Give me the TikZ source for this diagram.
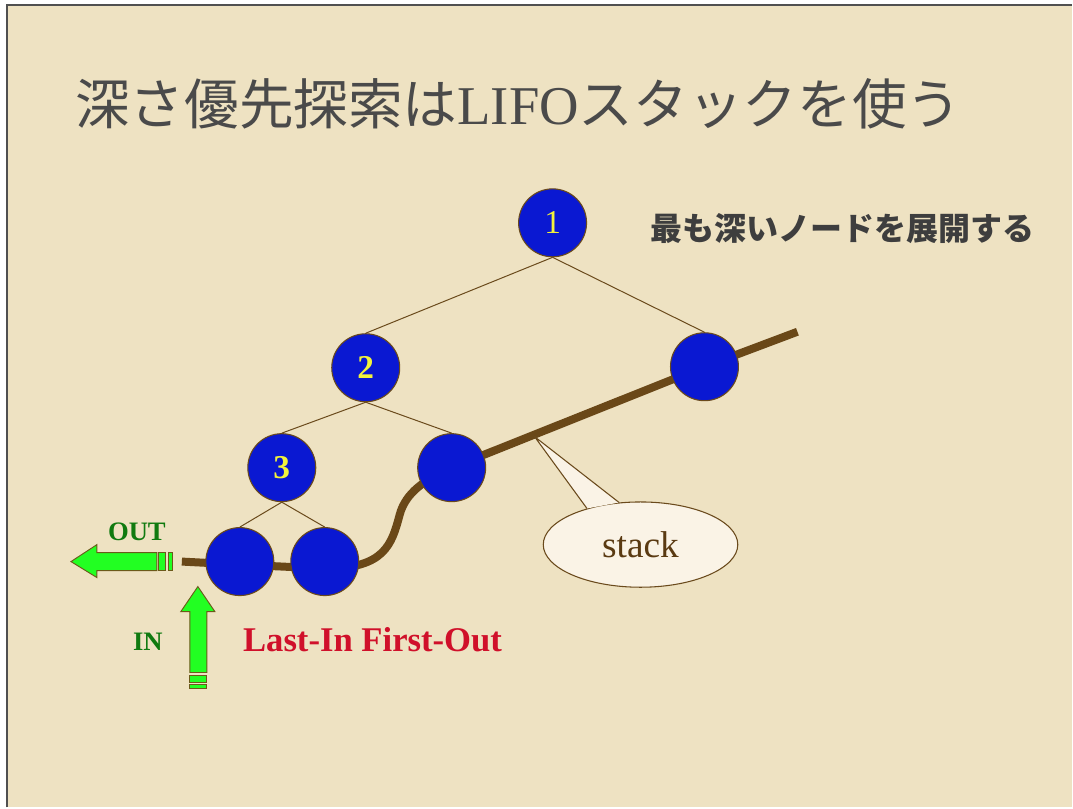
\documentclass[tikz,border=0pt]{standalone}
\usepackage{fontspec}
\setmainfont{Liberation Serif}
\newfontfamily\cjk{Noto Sans CJK JP}
\usetikzlibrary{shapes.geometric,calc}
\pgfdeclarelayer{back}
\pgfdeclarelayer{bg}
\pgfsetlayers{back,bg,main}
\definecolor{paper}{HTML}{EEE2C2}
\definecolor{frameline}{HTML}{505050}
\definecolor{titlegray}{HTML}{4A4A4A}
\definecolor{subgray}{HTML}{3E3E3E}
\definecolor{treebrown}{HTML}{6A4A1C}
\definecolor{stackbrown}{HTML}{6A4818}
\definecolor{nodeblue}{HTML}{0A18D2}
\definecolor{numyellow}{HTML}{F2F23C}
\definecolor{arrowgreen}{HTML}{22FF22}
\definecolor{arrowline}{HTML}{6B5A1A}
\definecolor{labelgreen}{HTML}{107A10}
\definecolor{lifored}{HTML}{D0102A}
\definecolor{callfill}{HTML}{FAF3E6}
\definecolor{calltext}{HTML}{5A3A12}
\tikzset{
  treenode/.style={circle, draw=treebrown, line width=0.8pt, fill=nodeblue,
    minimum size=51pt, inner sep=0pt, text=numyellow,
    font=\fontsize{25}{28}\selectfont},
  edge/.style={draw=treebrown, line width=0.75pt},
  stackline/.style={draw=stackbrown, line width=6pt},
  bigarrow/.style={fill=arrowgreen, draw=arrowline, line width=0.7pt, line join=miter},
  lbl/.style={inner sep=0pt, font=\fontsize{20}{24}\selectfont\bfseries, text=labelgreen},
}
\begin{document}
\begin{tikzpicture}[x=0.75pt,y=-0.75pt]
% background and frame
\begin{pgfonlayer}{back}
\fill[white] (0,0) rectangle (1073,808);
\fill[paper] (7,5) rectangle (1073,808);
\draw[frameline, line width=1.2pt] (7,808) -- (7,5) -- (1073,5);
\end{pgfonlayer}
\useasboundingbox (0,0) rectangle (1073,808);

% title
\node[anchor=base west, inner sep=0pt, text=titlegray,
      font=\fontsize{41}{48}\selectfont] (title) at (75,125)
  {{\cjk 深さ優先探索は}LIFO{\cjk スタックを使う}};
\node[anchor=west, inner sep=0pt, text=subgray,
      font=\fontsize{24}{28}\selectfont\cjk\bfseries] (sub) at (651,229)
  {最も深いノードを展開する};

% tree nodes
\node[treenode] (n1) at (553,223) {1};
\node[treenode] (n2) at (366,368) {\bfseries 2};
\node[treenode] (nr) at (705,367) {};
\node[treenode] (n3) at (282,468) {\bfseries 3};
\node[treenode] (nd) at (452,468) {};
\node[treenode] (la) at (240,562) {};
\node[treenode] (lb) at (325,562) {};

\coordinate (s0) at (182,562);
\coordinate (s1) at (798,332);

\begin{pgfonlayer}{bg}
\draw[edge] (n1.south) -- (n2.north);
\draw[edge] (n1.south) -- (nr.north);
\draw[edge] (n2.south) -- (n3.north);
\draw[edge] (n2.south) -- (nd.north);
\draw[edge] (n3.south) -- (la.north);
\draw[edge] (n3.south) -- (lb.north);
\draw[stackline] (s0) -- ($(la.center)+(0,3)$) -- ($(lb.center)+(0,7)$)
  .. controls (385,569) and (392,545) .. (400,515)
  .. controls (406,493) and (425,480) .. (nd.center) -- (nr.center) -- (s1);
\end{pgfonlayer}

% callout
\coordinate (tip) at (535,437);
\node[ellipse, draw=treebrown, line width=0.8pt, fill=callfill,
      minimum width=146pt, minimum height=64pt, inner sep=0pt,
      text=calltext, font=\fontsize{28}{32}\selectfont] (call) at (641,545) {stack};
\fill[callfill] (call.146) -- (tip) -- (call.117) -- cycle;
\draw[treebrown, line width=0.8pt, line join=miter] (call.146) -- (tip) -- (call.117);

% OUT arrow
\draw[bigarrow] (71,562) -- (97,545) -- (97,553) -- (157,553) -- (157,571)
  -- (97,571) -- (97,578) -- cycle;
\draw[bigarrow] (159,553) rectangle (166,571);
\draw[bigarrow] (169,553) rectangle (173,571);
% IN arrow
\draw[bigarrow] (198,587) -- (215,612) -- (207,612) -- (207,673) -- (190,673)
  -- (190,612) -- (181,612) -- cycle;
\draw[bigarrow] (190,676) rectangle (207,683);
\draw[bigarrow] (190,685) rectangle (207,689);

% labels
\node[lbl] (out) at (137,532) {OUT};
\node[lbl] (in) at (148,642) {IN};
\node[anchor=west, inner sep=0pt, text=lifored,
      font=\fontsize{26}{30}\selectfont\bfseries] (lifo) at (243,640) {Last-In First-Out};
\end{tikzpicture}
\end{document}
